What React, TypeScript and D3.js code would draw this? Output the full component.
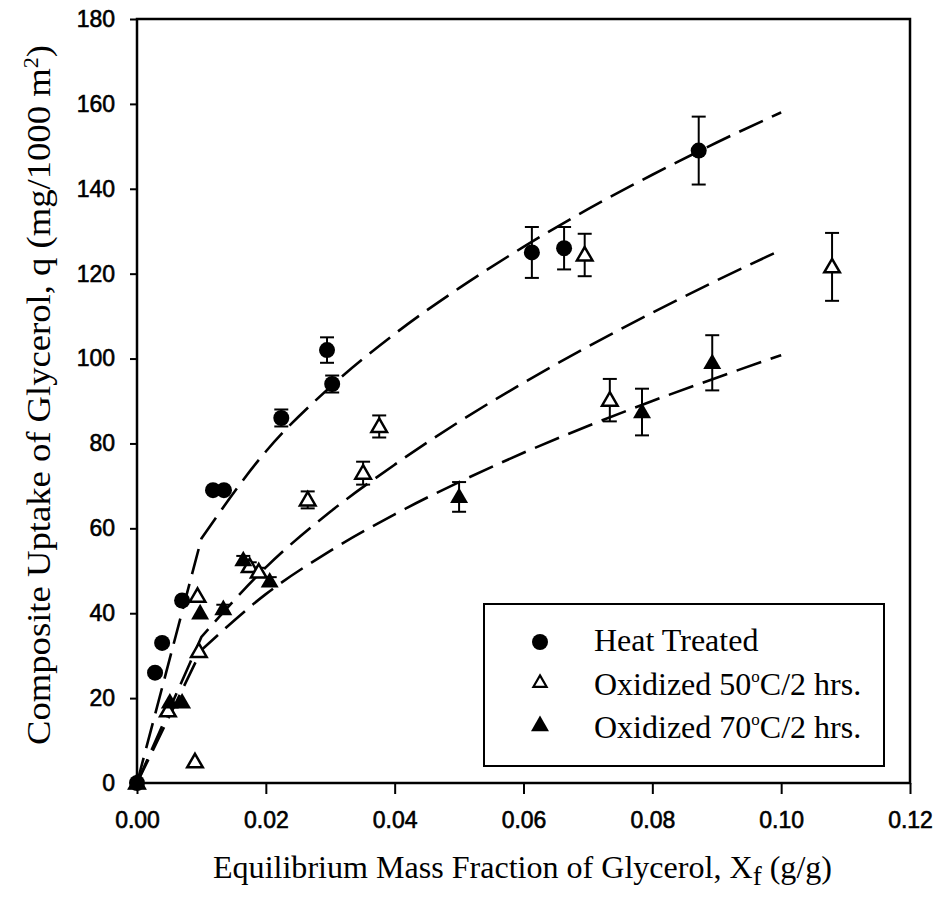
import React, { useEffect, useRef } from 'react';
import * as d3 from 'd3';

const heatX = [0, 0.0028, 0.0039, 0.007, 0.0118, 0.0135, 0.0224, 0.0295, 0.0303, 0.0613, 0.0663, 0.0872];
const heatY = [0, 26, 33, 43, 69, 69, 86, 102, 94, 125, 126, 149];
const heatErr = [0, 0, 0, 0, 0, 0, 2, 3, 2, 6, 5, 8];

const ox50X = [0, 0.0048, 0.009, 0.0096, 0.0094, 0.0175, 0.0189, 0.0265, 0.0351, 0.0376, 0.0695, 0.0734, 0.1079];
const ox50Y = [0, 17, 5, 31, 44, 51, 49.7, 66.7, 73, 84, 124.4, 90.2, 121.6];
const ox50Err = [0, 0, 0, 0, 0, 1, 1, 2, 2.7, 2.6, 5, 5, 8];

const ox70X = [0, 0.0051, 0.007, 0.0098, 0.0134, 0.0165, 0.0206, 0.05, 0.0784, 0.0893];
const ox70Y = [0, 19, 19, 40, 41, 52.5, 47.5, 67.4, 87.4, 99];
const ox70Err = [0, 0, 0, 0, 1, 1, 1, 3.5, 5.5, 6.5];

// dashed fitted curves, read at x = 0, 0.01 ... 0.10
const fitX = [0, 0.01, 0.02, 0.03, 0.04, 0.05, 0.06, 0.07, 0.08, 0.09, 0.1];
const heatFit = [0, 57.6, 78.1, 93.3, 105.8, 116.6, 126.3, 135.2, 143.3, 150.9, 158];
const ox50Fit = [0, 34.4, 50.8, 63.9, 75.0, 85.1, 94.3, 102.8, 110.8, 118.4, 125.6];
const ox70Fit = [0, 31.3, 44.5, 54.7, 63.3, 70.9, 77.8, 84.1, 90.0, 95.5, 100.8];

const xTicks = [0, 0.02, 0.04, 0.06, 0.08, 0.1, 0.12];
const yTicks = [0, 20, 40, 60, 80, 100, 120, 140, 160, 180];

const legendNames = ['Heat Treated', 'Oxidized 50', 'Oxidized 70'];

const App = () => {
  const ref = useRef<SVGSVGElement>(null);

  useEffect(() => {
    const svg = d3.select(ref.current);
    svg.selectAll('*').remove();

    const x = d3.scaleLinear().domain([0, 0.12]).range([137, 910]);
    const y = d3.scaleLinear().domain([0, 180]).range([783, 19]);

    // axes
    const xAxis = svg
      .append('g')
      .attr('transform', 'translate(0,783)')
      .call(d3.axisBottom(x).tickValues(xTicks).tickSize(11).tickPadding(18).tickFormat(d3.format('.2f')));
    const yAxis = svg
      .append('g')
      .attr('transform', 'translate(137,0)')
      .call(d3.axisLeft(y).tickValues(yTicks).tickSize(7).tickPadding(15).tickFormat(d3.format('d')));
    [xAxis, yAxis].forEach(a => {
      a.select('.domain').remove();
      a.selectAll('line').attr('stroke', '#000').attr('stroke-width', 2);
      a.selectAll('text')
        .attr('fill', '#000')
        .style('font-family', '"Liberation Sans", Arial, sans-serif')
        .style('font-size', '23px')
        .attr('stroke', '#000')
        .attr('stroke-width', 0.6);
    });

    // frame
    svg
      .append('rect')
      .attr('x', 137)
      .attr('y', 19)
      .attr('width', 773)
      .attr('height', 764)
      .attr('fill', 'none')
      .attr('stroke', '#000')
      .attr('stroke-width', 2.5);

    // fitted curves: straight from origin to 0.01, smooth after that
    const drawFit = (vals: number[]) => {
      const pts = fitX.map((v, i) => [x(v), y(vals[i])] as [number, number]);
      const head = d3.line()(pts.slice(0, 2)) as string;
      const tail = (d3.line().curve(d3.curveMonotoneX)(pts.slice(1)) as string).replace(/^M/, 'L');
      svg
        .append('path')
        .attr('d', head + tail)
        .attr('fill', 'none')
        .attr('stroke', '#000')
        .attr('stroke-width', 2.6)
        .attr('stroke-dasharray', '26,10');
    };
    drawFit(heatFit);
    drawFit(ox50Fit);
    drawFit(ox70Fit);

    // error bars
    const drawErr = (xs: number[], ys: number[], es: number[]) => {
      const g = svg.append('g').attr('stroke', '#000').attr('stroke-width', 2);
      xs.forEach((v, i) => {
        if (!es[i]) return;
        const cx = x(v);
        const t = y(ys[i] + es[i]);
        const b = y(ys[i] - es[i]);
        g.append('line').attr('x1', cx).attr('x2', cx).attr('y1', t).attr('y2', b);
        g.append('line').attr('x1', cx - 7).attr('x2', cx + 7).attr('y1', t).attr('y2', t);
        g.append('line').attr('x1', cx - 7).attr('x2', cx + 7).attr('y1', b).attr('y2', b);
      });
    };
    drawErr(heatX, heatY, heatErr);
    drawErr(ox50X, ox50Y, ox50Err);
    drawErr(ox70X, ox70Y, ox70Err);

    const openTri = d3.symbol().type(d3.symbolTriangle).size(105)() as string;
    const fullTri = d3.symbol().type(d3.symbolTriangle).size(140)() as string;

    // markers
    svg
      .append('g')
      .selectAll('path')
      .data(ox50X)
      .enter()
      .append('path')
      .attr('d', openTri)
      .attr('transform', (d, i) => `translate(${x(d)},${y(ox50Y[i]) + 1})`)
      .attr('fill', '#fff')
      .attr('stroke', '#000')
      .attr('stroke-width', 2.5);
    svg
      .append('g')
      .selectAll('path')
      .data(ox70X)
      .enter()
      .append('path')
      .attr('d', fullTri)
      .attr('transform', (d, i) => `translate(${x(d)},${y(ox70Y[i]) + 1})`)
      .attr('fill', '#000');
    svg
      .append('g')
      .selectAll('circle')
      .data(heatX)
      .enter()
      .append('circle')
      .attr('cx', d => x(d))
      .attr('cy', (d, i) => y(heatY[i]))
      .attr('r', 8)
      .attr('fill', '#000');

    // legend
    svg
      .append('rect')
      .attr('x', 484)
      .attr('y', 604)
      .attr('width', 400)
      .attr('height', 162)
      .attr('fill', '#fff')
      .attr('stroke', '#000')
      .attr('stroke-width', 2);
    const serif = '"Liberation Serif", "Times New Roman", serif';
    const rows = [642, 683, 726];
    svg.append('circle').attr('cx', 540).attr('cy', rows[0]).attr('r', 8).attr('fill', '#000');
    svg
      .append('path')
      .attr('d', d3.symbol().type(d3.symbolTriangle).size(75)() as string)
      .attr('transform', `translate(540,${rows[1]})`)
      .attr('fill', '#fff')
      .attr('stroke', '#000')
      .attr('stroke-width', 2.2);
    svg
      .append('path')
      .attr('d', fullTri)
      .attr('transform', `translate(540,${rows[2]})`)
      .attr('fill', '#000');
    const baselines = [651, 695, 738];
    legendNames.forEach((name, i) => {
      const t = svg
        .append('text')
        .attr('x', 594)
        .attr('y', baselines[i])
        .style('font-family', serif)
        .style('font-size', '32px')
        .attr('fill', '#000');
      t.append('tspan').text(name);
      if (i > 0) {
        t.append('tspan').attr('dy', -13).style('font-size', '17px').text('o');
        t.append('tspan').attr('dy', 13).text('C/2 hrs.');
      }
    });

    // axis titles
    const xt = svg
      .append('text')
      .attr('x', 213)
      .attr('y', 878)
      .attr('textLength', 619)
      .attr('lengthAdjust', 'spacingAndGlyphs')
      .style('font-family', serif)
      .style('font-size', '32px')
      .attr('fill', '#000');
    xt.append('tspan').text('Equilibrium Mass Fraction of Glycerol, X');
    xt.append('tspan').attr('dy', 7).style('font-size', '27px').text('f');
    xt.append('tspan').attr('dy', -7).text(' (g/g)');

    const yt = svg
      .append('text')
      .attr('transform', 'translate(50,395) rotate(-90)')
      .attr('text-anchor', 'middle')
      .attr('textLength', 700)
      .attr('lengthAdjust', 'spacingAndGlyphs')
      .style('font-family', serif)
      .style('font-size', '33px')
      .attr('fill', '#000');
    yt.append('tspan').text('Composite Uptake of Glycerol, q (mg/1000 m');
    yt.append('tspan').attr('dy', -12).style('font-size', '20px').text('2');
    yt.append('tspan').attr('dy', 12).text(')');
  }, []);

  return (
    <svg
      ref={ref}
      width={939}
      height={902}
      style={{ position: 'absolute', left: 0, top: 0, background: '#fff' }}
    />
  );
};

export default App;
